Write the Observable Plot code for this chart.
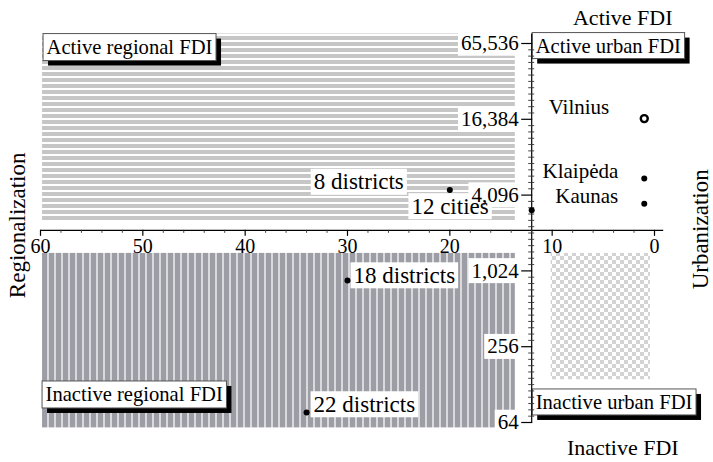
<!DOCTYPE html>
<html><head><meta charset="utf-8">
<script src="https://cdn.jsdelivr.net/npm/d3@7"></script>
<script src="https://cdn.jsdelivr.net/npm/@observablehq/plot@0.6"></script>
<style>
html,body{margin:0;padding:0;background:#fff;}
svg{font-family:"Liberation Serif","DejaVu Serif",serif;display:block;}
</style></head><body>
<div id="chart"></div>
<script>
// ---- data ----
const districtLabels = ["8 districts", "12 cities", "18 districts", "22 districts"];
const districtShare  = [20, 12, 30, 34];
const districtFDI    = [4500, 3100, 860, 77];

const cityNames = ["Vilnius", "Klaipėda", "Kaunas"];
const cityShare = [1, 1, 1];
const cityFDI   = [16600, 5550, 3500];

const xTickValues = [60, 50, 40, 30, 20, 10, 0];
const xTickLabels = ["60", "50", "40", "30", "20", "10", "0"];
const yTickValues = [64, 256, 1024, 4096, 16384, 65536];
const yTickLabels = ["64", "256", "1,024", "4,096", "16,384", "65,536"];

const quadrantNames  = ["Active regional FDI", "Inactive regional FDI", "Active urban FDI", "Inactive urban FDI"];
const quadrantX1     = [59.8, 59.8, 12, 10.1];
const quadrantX2     = [13.6, 13.6, -0.9, 0.4];
const quadrantYlow   = [2490, 58, 2490, 140];
const quadrantYhigh  = [78000, 1410, 78000, 1410];

const axisTitles = ["Active FDI", "Inactive FDI", "Regionalization", "Urbanization"];
const xCross = 12, yCross = 2150;
const xAxisEnd = -0.9, yAxisLow = 63, yAxisHigh = 78000;

// ---- tables ----
const districts = districtLabels.map((label, i) => ({label, x: districtShare[i], y: districtFDI[i]}));
const cities = cityNames.map((label, i) => ({label, x: cityShare[i], y: cityFDI[i]}));
const quads = quadrantNames.map((name, i) => ({name, x1: quadrantX1[i], x2: quadrantX2[i], y1: quadrantYlow[i], y2: quadrantYhigh[i]}));
const xTicks = xTickValues.map((v, i) => ({v, label: xTickLabels[i]}));
const yTicks = yTickValues.map((v, i) => ({v, label: yTickLabels[i]}));
const xMinor = d3.range(0, 61, 2).filter(v => v % 10 !== 0);
const yMinor = d3.range(36, 97).filter(k => k % 12 !== 0).map(k => 2 ** (k / 6));

const font = "Liberation Serif";
const one = (d) => [d];
const qfs = 20.6;

const svg = Plot.plot({
  width: 713, height: 462,
  marginLeft: 0, marginRight: 0, marginTop: 0, marginBottom: 0,
  x: {domain: [60, 0], range: [40, 654], axis: null},
  y: {type: "log", base: 2, domain: [64, 65536], range: [422, 43], axis: null},
  style: {fontFamily: font, background: "white", color: "black", overflow: "visible"},
  marks: [
    Plot.rect([quads[0]], {x1: "x1", x2: "x2", y1: "y1", y2: "y2", fill: "url(#hstripes)"}),
    Plot.rect([quads[1]], {x1: "x1", x2: "x2", y1: "y1", y2: "y2", fill: "url(#vstripes)"}),
    Plot.rect([quads[3]], {x1: "x1", x2: "x2", y1: "y1", y2: "y2", fill: "url(#checker)"}),

    // tick labels
    Plot.text(yTicks, {x: xCross, y: "v", text: "label", textAnchor: "end", dx: -13, fontSize: 21, fill: "black"}),
    Plot.text(xTicks, {x: "v", y: yCross, text: "label", dy: 16, fontSize: 20, fill: "black"}),

    // district labels
    Plot.text([districts[0]], {x: "x", y: "y", text: "label", textAnchor: "end", dx: -46, dy: -8, fontSize: 23}),
    Plot.text([districts[1]], {x: "x", y: "y", text: "label", textAnchor: "end", dx: -43, dy: -4, fontSize: 23}),
    Plot.text([districts[2]], {x: "x", y: "y", text: "label", textAnchor: "start", dx: 6, dy: -5, fontSize: 23}),
    Plot.text([districts[3]], {x: "x", y: "y", text: "label", textAnchor: "start", dx: 7, dy: -8, fontSize: 23}),

    // city labels
    Plot.text([cities[0]], {x: "x", y: "y", text: "label", textAnchor: "end", dx: -35, dy: -11, fontSize: 21}),
    Plot.text([cities[1]], {x: "x", y: "y", text: "label", textAnchor: "end", dx: -26, dy: -7, fontSize: 21}),
    Plot.text([cities[2]], {x: "x", y: "y", text: "label", textAnchor: "end", dx: -26, dy: -7, fontSize: 21}),

    // quadrant titles (framed)
    Plot.text([quads[0]], {x: "x1", y: "y2", text: "name", textAnchor: "start", dx: 4, dy: 13, fontSize: qfs}),
    Plot.text([quads[2]], {x: xCross, y: "y2", text: "name", textAnchor: "start", dx: 4, dy: 12, fontSize: qfs}),
    Plot.text([quads[1]], {x: "x1", y: "y1", text: "name", textAnchor: "start", dx: 3, dy: -33.5, fontSize: qfs}),
    Plot.text([quads[3]], {x: xCross, y: yAxisLow, text: "name", textAnchor: "start", dx: 4, dy: -21, fontSize: qfs}),

    // axis titles
    Plot.text(one(axisTitles[0]), {x: 3.1, y: yAxisHigh, text: d => d, dy: -16, fontSize: 22}),
    Plot.text(one(axisTitles[1]), {x: 3.1, y: 58, text: d => d, dy: 20.5, fontSize: 22}),
    Plot.text(one(axisTitles[2]), {x: 60, y: yCross, text: d => d, rotate: -90, dx: -23, dy: -5, fontSize: 23}),
    Plot.text(one(axisTitles[3]), {x: xAxisEnd, y: yCross, text: d => d, rotate: -90, dx: 37, dy: -1, fontSize: 23}),

    // axes
    Plot.ruleX([xCross], {y1: yAxisLow, y2: yAxisHigh, stroke: "black", strokeWidth: 1.2}),
    Plot.ruleY([yCross], {x1: 60, x2: xAxisEnd, stroke: "black", strokeWidth: 1.2}),
    Plot.ruleY(yTickValues, {x1: xCross, x2: xCross, insetLeft: -10, insetRight: -1, stroke: "black", strokeWidth: 1.2}),
    Plot.ruleY(yMinor, {x1: xCross, x2: xCross, insetLeft: -3, insetRight: -3, stroke: "#333", strokeWidth: 0.9}),
    Plot.ruleX(xTickValues, {y1: yCross, y2: yCross, insetBottom: -6, stroke: "black", strokeWidth: 1.2}),
    Plot.ruleX(xMinor, {y1: yCross, y2: yCross, insetBottom: -3, stroke: "#333", strokeWidth: 0.9}),

    // points
    Plot.dot(districts, {x: "x", y: "y", r: 3, fill: "black", stroke: "none"}),
    Plot.dot(cities.slice(1), {x: "x", y: "y", r: 3, fill: "black", stroke: "none"}),
    Plot.dot(cities.slice(0, 1), {x: "x", y: "y", r: 3.5, fill: "white", stroke: "black", strokeWidth: 2.4})
  ]
});

document.getElementById("chart").appendChild(svg);

// ---- patterns ----
const root = d3.select(svg);
const defs = root.insert("defs", ":first-child");
const hp = defs.append("pattern").attr("id", "hstripes").attr("patternUnits", "userSpaceOnUse").attr("width", 8).attr("height", 6);
hp.append("rect").attr("width", 8).attr("height", 6).attr("fill", "#ffffff");
hp.append("rect").attr("width", 8).attr("height", 4).attr("fill", "#c6c6c6");
const vp = defs.append("pattern").attr("id", "vstripes").attr("patternUnits", "userSpaceOnUse").attr("width", 7).attr("height", 8);
vp.append("rect").attr("width", 7).attr("height", 8).attr("fill", "#dadade");
vp.append("rect").attr("width", 5).attr("height", 8).attr("fill", "#9d9da6");
const cp = defs.append("pattern").attr("id", "checker").attr("patternUnits", "userSpaceOnUse").attr("width", 8).attr("height", 8);
cp.append("rect").attr("width", 8).attr("height", 8).attr("fill", "#ffffff");
cp.append("rect").attr("width", 4).attr("height", 4).attr("fill", "#d3d3d3");
cp.append("rect").attr("x", 4).attr("y", 4).attr("width", 4).attr("height", 4).attr("fill", "#d3d3d3");

// ---- label boxes, picked by their text, in one layer beneath all texts ----
const boxedSet = new Set([...yTickLabels, ...districtLabels]);
const framedSet = new Set(quadrantNames);
const NS = "http://www.w3.org/2000/svg";
const texts = Array.from(svg.querySelectorAll("text"));
const firstTextGroup = texts[0].parentNode;
const layer = document.createElementNS(NS, "g");
firstTextGroup.parentNode.insertBefore(layer, firstTextGroup);
const makeRect = (b, m, dx, dy, fill, stroke) => {
  const r = document.createElementNS(NS, "rect");
  r.setAttribute("x", b.x + dx); r.setAttribute("y", b.y + dy);
  r.setAttribute("width", b.w); r.setAttribute("height", b.h);
  r.setAttribute("fill", fill);
  r.setAttribute("stroke", stroke || "none");
  if (stroke) r.setAttribute("stroke-width", 1);
  r.setAttribute("transform", `matrix(${m.a},${m.b},${m.c},${m.d},${m.e},${m.f})`);
  return r;
};
const shadows = [], fronts = [];
texts.forEach(el => {
  const s = el.textContent;
  if (!framedSet.has(s) && !boxedSet.has(s)) return;
  const bb = el.getBBox();
  const m = el.getCTM();
  if (framedSet.has(s)) {
    const b = {x: bb.x - 3.5, y: bb.y - 2, w: bb.width + 7, h: bb.height + 4};
    shadows.push(makeRect(b, m, 5, 5, "black"));
    fronts.push(makeRect(b, m, 0, 0, "white", "#555"));
  } else {
    const b = {x: bb.x - 3, y: bb.y - 0.5, w: bb.width + 6, h: bb.height + 1};
    fronts.push(makeRect(b, m, 0, 0, "white"));
  }
});
shadows.forEach(r => layer.appendChild(r));
fronts.forEach(r => layer.appendChild(r));
</script>
</body></html>
